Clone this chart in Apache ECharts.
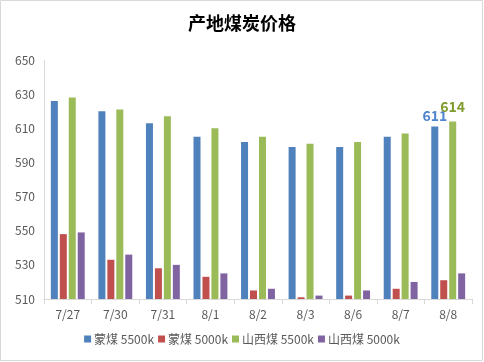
<!DOCTYPE html>
<html>
<head>
<meta charset="utf-8">
<script src="https://cdn.jsdelivr.net/npm/echarts@6/dist/echarts.min.js"></script>
<style>
html,body{margin:0;padding:0;background:#fff;}
#c{width:484px;height:362px;}
</style>
</head>
<body>
<div id="c"></div>
<script>
var categories = ['7/27', '7/30', '7/31', '8/1', '8/2', '8/3', '8/6', '8/7', '8/8'];
var seriesNames = ['蒙煤 5500k', '蒙煤 5000k', '山西煤 5500k', '山西煤 5000k'];
var mengmei5500 = [626, 620, 613, 605, 602, 599, 599, 605, 611];
var mengmei5000 = [548, 533, 528, 523, 515, 511, 512, 516, 521];
var shanxi5500 = [628, 621, 617, 610, 605, 601, 602, 607, 614];
var shanxi5000 = [549, 536, 530, 525, 516, 512, 515, 520, 525];
var yTicks = [510, 530, 550, 570, 590, 610, 630, 650];

var colors = ['#4F81BD', '#C0504D', '#9BBB59', '#8064A2'];
var labelColors = ['#4F86D0', null, '#7F9B2C', null];
var labelDist = [4, 0, 8, 0];
var font = 'Noto Sans CJK SC, Noto Sans, sans-serif';

function withLastLabel(arr, idx) {
  return arr.map(function (v, i) {
    if (i === arr.length - 1 && labelColors[idx]) {
      return {
        value: v,
        label: {
          show: true, position: 'top', distance: labelDist[idx],
          color: labelColors[idx], fontSize: 14, fontWeight: 'bold', fontFamily: font
        }
      };
    }
    return v;
  });
}

var allData = [mengmei5500, mengmei5000, shanxi5500, shanxi5000];
var series = allData.map(function (arr, idx) {
  return {
    name: seriesNames[idx],
    type: 'bar',
    data: withLastLabel(arr, idx),
    barWidth: 7,
    barGap: '28%',
    itemStyle: { color: colors[idx] }
  };
});

var chart = echarts.init(document.getElementById('c'), null, { renderer: 'canvas' });
chart.setOption({
  animation: false,
  backgroundColor: '#fff',
  title: {
    text: '产地煤炭价格',
    left: 'center',
    top: 9,
    textStyle: { fontSize: 18, fontWeight: 'bold', color: '#000', fontFamily: font }
  },
  legend: {
    bottom: 12,
    left: 'center',
    itemWidth: 7,
    itemHeight: 7,
    itemGap: 4,
    icon: 'rect',
    textStyle: { fontSize: 12, color: '#595959', fontFamily: font, padding: [0, 0, 0, -2] },
    data: seriesNames
  },
  grid: { left: 44, right: 12, top: 60, bottom: 63 },
  xAxis: {
    type: 'category',
    data: categories,
    axisLine: { lineStyle: { color: '#D9D9D9' } },
    axisTick: { show: true, length: 5, lineStyle: { color: '#D9D9D9' } },
    axisLabel: { color: '#595959', fontSize: 12, margin: 9, fontFamily: font }
  },
  yAxis: {
    type: 'value',
    min: 510,
    max: 650,
    interval: 20,
    axisLine: { show: true, lineStyle: { color: '#D9D9D9' } },
    axisTick: { show: false },
    splitLine: { show: false },
    axisLabel: {
      color: '#595959', fontSize: 12, margin: 9, fontFamily: font,
      formatter: function (v) { return yTicks.indexOf(v) >= 0 ? String(v) : ''; }
    }
  },
  graphic: [{
    type: 'rect',
    shape: { x: 0.5, y: 0.5, width: 482, height: 360 },
    style: { fill: 'none', stroke: '#D9D9D9', lineWidth: 1 },
    silent: true
  }],
  series: series
});
</script>
</body>
</html>
